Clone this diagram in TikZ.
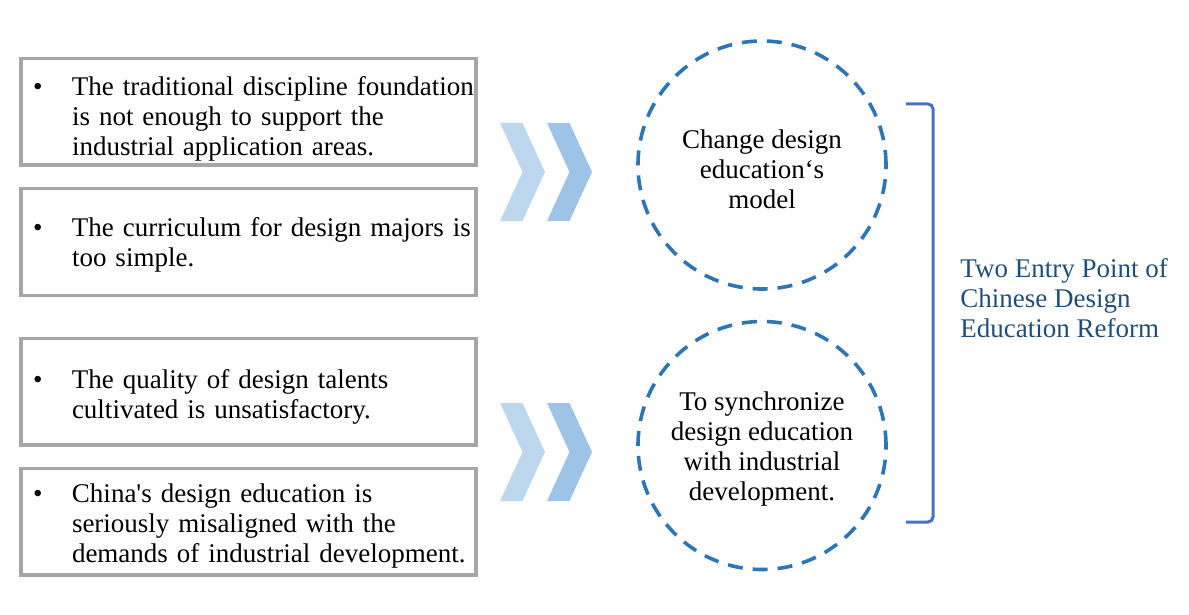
\documentclass[tikz,border=0pt]{standalone}
\usepackage{fontspec}
\setmainfont{Liberation Serif}
\usepackage{xcolor}
\usepackage{tikz}
\usetikzlibrary{positioning}
\definecolor{boxgray}{HTML}{A6A6A6}
\definecolor{chevlight}{HTML}{BDD7EE}
\definecolor{chevdark}{HTML}{9DC3E6}
\definecolor{ringblue}{HTML}{2E75B6}
\definecolor{brackblue}{HTML}{4472C4}
\definecolor{titleblue}{HTML}{1F4E79}
\newcommand{\dgfont}{\fontsize{13.5}{15}\selectfont}
\newcommand{\bulitem}[2]{\raisebox{-#1}[\height][\depth]{\begin{tabular}{@{}p{19.5pt}@{}l@{}}\textbullet & #2\end{tabular}}}

\begin{document}
\begin{tikzpicture}[
    x=0.5pt, y=-0.5pt,
    every node/.style={font=\dgfont},
    probbox/.style={rectangle, draw=boxgray, line width=1.6pt, minimum width=227.5pt, minimum height=53.25pt,
        text width=215.5pt, inner xsep=6pt, align=left},
    ring/.style={circle, draw=ringblue, line width=1.8pt, dash pattern=on 7.5pt off 5pt,
        minimum size=124pt, inner sep=0},
    ringtext/.style={inner sep=0, align=center},
    brack/.style={draw=brackblue, line width=1.5pt, rounded corners=2.5pt},
    reform/.style={text=titleblue, inner sep=0, align=left}]
\useasboundingbox (0,0) rectangle (1189,615);

% problems
\node[probbox] (prob1) at (248.5,111.75) {\bulitem{3.9pt}{The traditional discipline foundation\\ & is not enough to support the\\ & industrial application areas.}};
\node[probbox] (prob2) at (248.5,242) {\bulitem{1.5pt}{The curriculum for design majors is\\ & too simple.}};
\node[probbox] (prob3) at (248.5,391.75) {\bulitem{2.9pt}{The quality of design talents\\ & cultivated is unsatisfactory.}};
\node[probbox] (prob4) at (248.5,521.75) {\bulitem{2.4pt}{China\textquotesingle s design education is\\ & seriously misaligned with the\\ & demands of industrial development.}};

% chevrons
\foreach \cy in {172,452}{
  \foreach \cx/\cc in {500/chevlight,547/chevdark}
    \fill[\cc] (\cx,\cy-49) -- ++(22.5,0) -- ++(22.5,49) -- ++(-22.5,49) -- ++(-22.5,0) -- ++(22.5,-49) -- cycle;
}

% entry points
\node[ring] (model) at (762,165) {};
\node[ringtext] (modeltxt) at ([yshift=-2pt]model.center) {Change design\\education`s\\model};
\node[ring] (sync) at (762,445.5) {};
\node[ringtext] (synctxt) at ([yshift=-2pt]sync.center) {To synchronize\\design education\\with industrial\\development.};

\draw[brack] (906,104) -- (933,104) -- (933,522) -- (906,522);
\node[reform, anchor=west] (title) at (960,298) {Two Entry Point of\\Chinese Design\\Education Reform};

\end{tikzpicture}
\end{document}
